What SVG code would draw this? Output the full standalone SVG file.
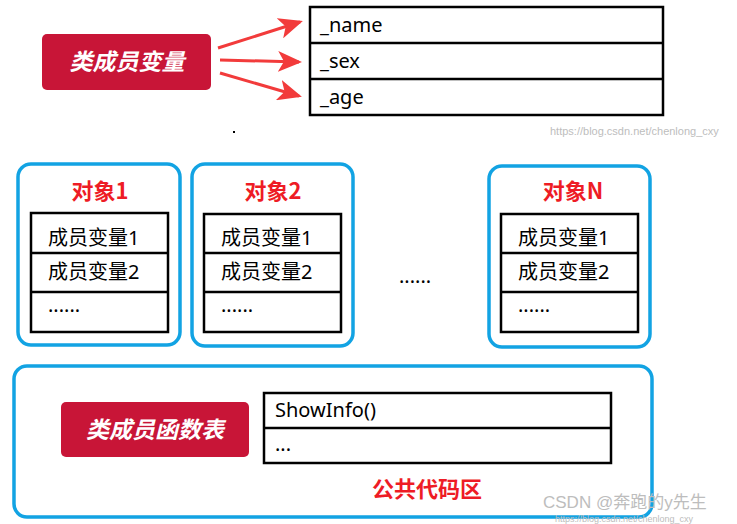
<svg xmlns="http://www.w3.org/2000/svg" width="737" height="524" viewBox="0 0 737 524">
<style>
.tbl{fill:#fff;stroke:#000;stroke-width:2.5}
.div{stroke:#000;stroke-width:2.5}
.obj{fill:#fff;stroke:#12A3E3;stroke-width:3.5}
.tag{fill:#C81537}
.tagt{font-family:"Noto Sans CJK SC","Noto Sans",sans-serif;font-weight:bold;font-style:italic;font-size:23px;fill:#fff;text-anchor:middle}
.cell{font-family:"Noto Sans","Noto Sans CJK SC",sans-serif;font-size:20px;fill:#000}
.ttl{font-family:"Noto Sans CJK SC","Noto Sans",sans-serif;font-weight:bold;font-size:22px;fill:#EE1C25;text-anchor:middle}
.wm{font-family:"Liberation Sans","Noto Sans CJK SC",sans-serif;fill:#BDBDBD}
.arr{stroke:#F23B3B;stroke-width:3;fill:none}
</style>
<defs>
<marker id="ah" markerWidth="8" markerHeight="7" refX="7" refY="3.5" orient="auto" markerUnits="strokeWidth">
<path d="M0,0 L8,3.5 L0,7 L2,3.5 Z" fill="#F23B3B"/>
</marker>
</defs>

<g id="member-vars-label">
<rect class="tag" x="42" y="34" width="169" height="56" rx="5"/>
<text class="tagt" x="127" y="70">类成员变量</text>
</g>

<g id="member-table">
<rect class="tbl" x="310" y="7" width="353" height="108"/>
<line class="div" x1="310" y1="43" x2="663" y2="43"/>
<line class="div" x1="310" y1="79" x2="663" y2="79"/>
<text class="cell" x="320" y="32">_name</text>
<text class="cell" x="320" y="68">_sex</text>
<text class="cell" x="320" y="104">_age</text>
</g>

<g id="connectors">
<line class="arr" x1="218" y1="48" x2="300" y2="22" marker-end="url(#ah)"/>
<line class="arr" x1="220" y1="60" x2="299" y2="62" marker-end="url(#ah)"/>
<line class="arr" x1="220" y1="73" x2="299" y2="96" marker-end="url(#ah)"/>
</g>

<rect x="233" y="131" width="2" height="2" fill="#000"/>
<text class="wm" x="550" y="135" font-size="11">https://blog.csdn.net/chenlong_cxy</text>

<g id="obj1">
<rect class="obj" x="18" y="164" width="162" height="181" rx="13"/>
<text class="ttl" x="100" y="199">对象1</text>
<rect class="tbl" x="31" y="213" width="137" height="119"/>
<line class="div" x1="31" y1="253" x2="168" y2="253"/>
<line class="div" x1="31" y1="292" x2="168" y2="292"/>
<text class="cell" x="48" y="245">成员变量1</text>
<text class="cell" x="48" y="279">成员变量2</text>
<text class="cell" x="48" y="312">......</text>
</g>

<g id="obj2">
<rect class="obj" x="192" y="164" width="161" height="182" rx="13"/>
<text class="ttl" x="273" y="199">对象2</text>
<rect class="tbl" x="204" y="214" width="137" height="118"/>
<line class="div" x1="204" y1="253" x2="341" y2="253"/>
<line class="div" x1="204" y1="292" x2="341" y2="292"/>
<text class="cell" x="221" y="245">成员变量1</text>
<text class="cell" x="221" y="279">成员变量2</text>
<text class="cell" x="221" y="312">......</text>
</g>

<text class="cell" x="399" y="283">......</text>

<g id="objN">
<rect class="obj" x="489" y="166" width="161" height="181" rx="13"/>
<text class="ttl" x="573" y="199">对象N</text>
<rect class="tbl" x="501" y="214" width="137" height="118"/>
<line class="div" x1="501" y1="253" x2="638" y2="253"/>
<line class="div" x1="501" y1="292" x2="638" y2="292"/>
<text class="cell" x="518" y="245">成员变量1</text>
<text class="cell" x="518" y="279">成员变量2</text>
<text class="cell" x="518" y="312">......</text>
</g>

<g id="public-code-area">
<rect class="obj" x="14" y="366" width="638" height="151" rx="13"/>
<text class="ttl" x="427" y="497" font-size="23">公共代码区</text>
</g>

<g id="member-funcs-label">
<rect class="tag" x="61" y="402" width="188" height="55" rx="5"/>
<text class="tagt" x="155" y="438">类成员函数表</text>
</g>

<g id="func-table">
<rect class="tbl" x="264" y="393" width="347" height="70"/>
<line class="div" x1="264" y1="428" x2="611" y2="428"/>
<text class="cell" x="275" y="417">ShowInfo()</text>
<text class="cell" x="275" y="451">...</text>
</g>

<text class="wm" x="543" y="508" font-size="17">CSDN @奔跑的y先生</text>
<text class="wm" x="555" y="522" font-size="9">https://blog.csdn.net/chenlong_cxy</text>
</svg>
